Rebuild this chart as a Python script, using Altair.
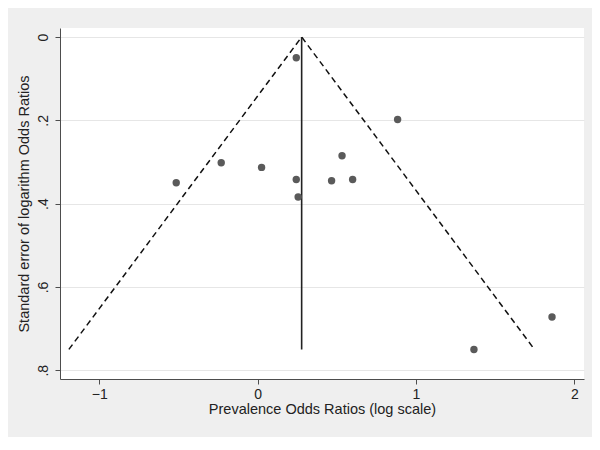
import altair as alt
import pandas as pd

# Study estimates: log odds ratio and its standard error
log_or = [-0.514, -0.23, 0.025, 0.244, 0.244, 0.256, 0.884, 0.533, 0.467, 0.600, 1.366, 1.859]
se = [0.350, 0.302, 0.313, 0.050, 0.342, 0.384, 0.198, 0.285, 0.345, 0.342, 0.750, 0.672]

pooled = 0.278
se_max = 0.75
z = 1.96

x_ticks = [-1, 0, 1, 2]
y_ticks = [0, 0.2, 0.4, 0.6, 0.8]

pts = pd.DataFrame({"x": log_or, "se": se})
vline = pd.DataFrame({"x": [pooled, pooled], "se": [0, se_max]})
funnel = pd.DataFrame({
    "x": [pooled - z * se_max, pooled, pooled + z * se_max],
    "se": [se_max, 0, se_max],
})

xscale = alt.Scale(domain=[-1.248, 2.061], nice=False, zero=False)
yscale = alt.Scale(domain=[-0.0216, 0.821], nice=False, zero=False, reverse=True)

xaxis = alt.Axis(
    title="Prevalence Odds Ratios (log scale)", values=x_ticks, format="d",
    grid=False, labelFontSize=14, titleFontSize=14.5, labelPadding=3,
    titlePadding=1, tickSize=5,
)
yaxis = alt.Axis(
    title="Standard error of logarithm Odds Ratios", values=y_ticks,
    labelExpr="datum.value == 0 ? '0' : replace(format(datum.value, '.1f'), '0.', '.')",
    grid=True, gridColor="#e6e6e6", labelAngle=270, labelAlign="center",
    labelBaseline="bottom", labelFontSize=14, titleFontSize=14.5,
    labelPadding=5, titlePadding=5, tickSize=5,
)

base_x = alt.X("x:Q", scale=xscale, axis=xaxis)
base_y = alt.Y("se:Q", scale=yscale, axis=yaxis)

points = alt.Chart(pts).mark_circle(size=55, color="#5a5a5a", opacity=1).encode(
    x=base_x, y=base_y
)
line = alt.Chart(vline).mark_line(color="#222222", strokeWidth=1.6).encode(
    x=base_x, y=base_y
)
dash = alt.Chart(funnel).mark_line(
    color="#111111", strokeWidth=1.5, strokeDash=[6, 4]
).encode(x=base_x, y=base_y, order=alt.Order("x:Q"))

chart = (
    alt.layer(dash, line, points)
    .properties(
        width=524, height=351, background="#efefef",
        autosize=alt.AutoSizeParams(type="none"),
        padding={"left": 52, "top": 20, "right": 8, "bottom": 58},
    )
    .configure_view(fill="white", stroke=None)
    .configure_axis(
        domainColor="#4d4d4d", tickColor="#4d4d4d", labelColor="#222222",
        titleColor="#222222", labelFont="Liberation Sans", titleFont="Liberation Sans",
        titleFontWeight="normal",
    )
)

chart.save("out.html", embed_options={"renderer": "svg", "actions": False})
